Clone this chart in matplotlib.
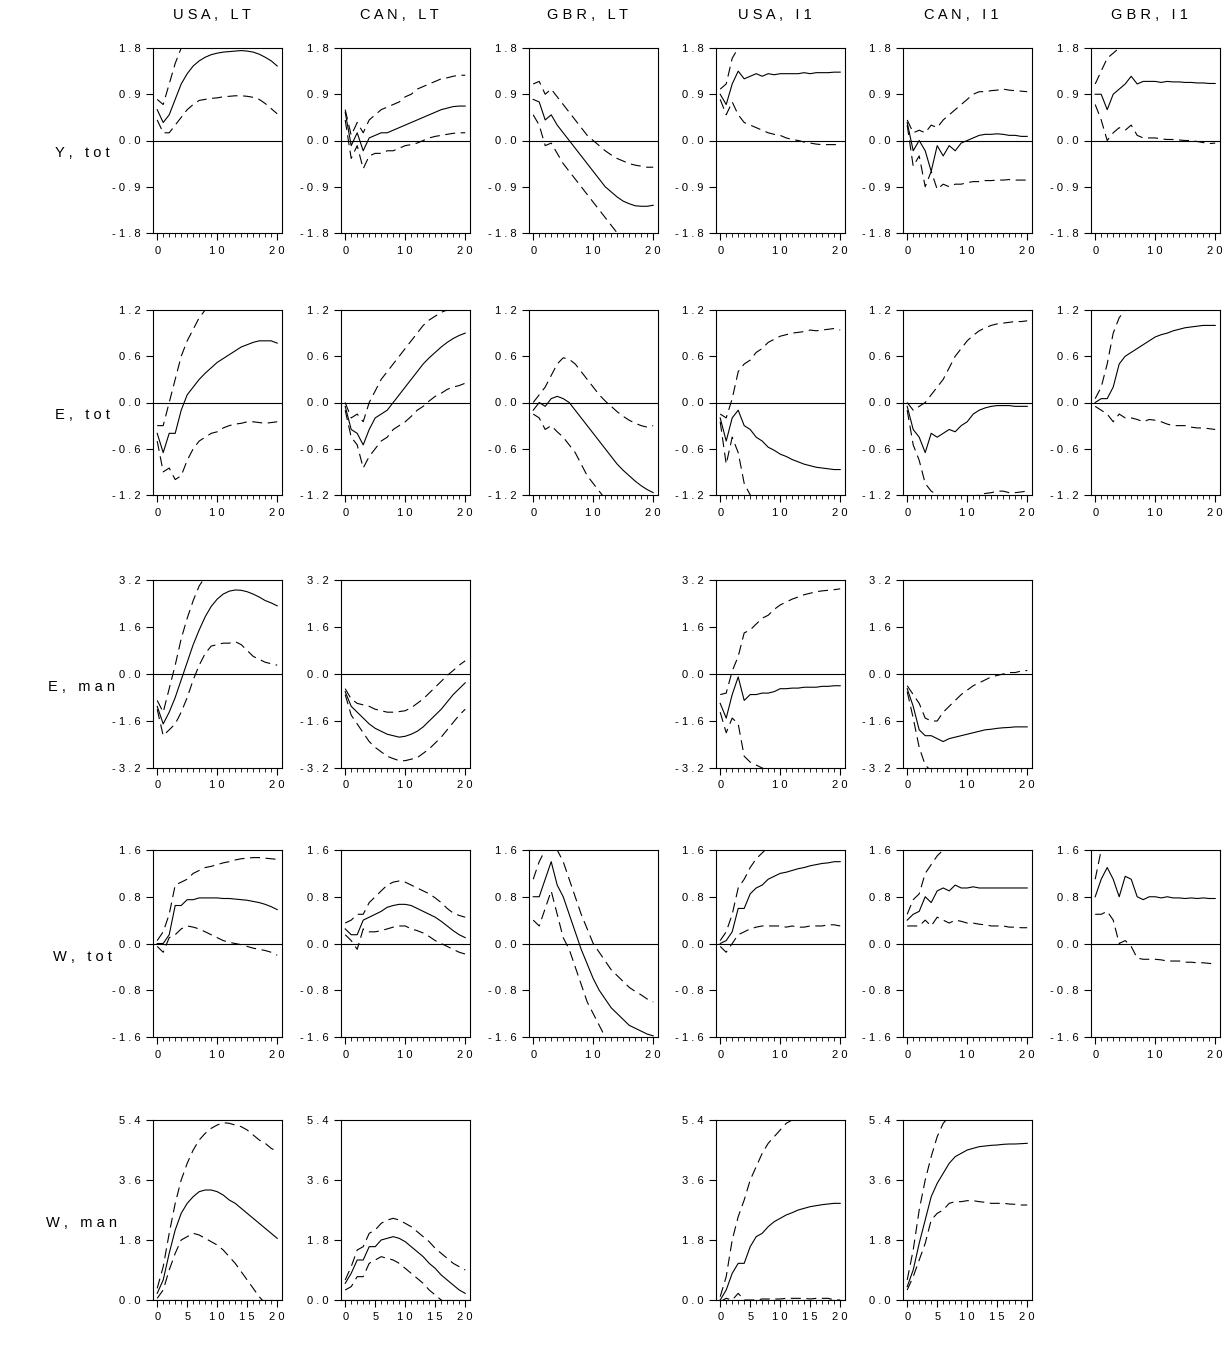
import numpy as np
import matplotlib.pyplot as plt
from matplotlib.ticker import FuncFormatter, MultipleLocator

plt.rcParams['font.family'] = ['Liberation Sans', 'DejaVu Sans']

steps = np.arange(21)
col_titles = ["USA, LT", "CAN, LT", "GBR, LT", "USA, I1", "CAN, I1", "GBR, I1"]
row_titles = ["Y, tot", "E, tot", "E, man", "W, tot", "W, man"]
row_limits = [(-1.8, 1.8), (-1.2, 1.2), (-3.2, 3.2), (-1.6, 1.6), (0.0, 5.4)]
row_ticks = [[-1.8, -0.9, 0.0, 0.9, 1.8], [-1.2, -0.6, 0.0, 0.6, 1.2],
             [-3.2, -1.6, 0.0, 1.6, 3.2], [-1.6, -0.8, 0.0, 0.8, 1.6],
             [0.0, 1.8, 3.6, 5.4]]

# each panel: [response, upper band, lower band]
y_usa_lt = [[0.6,0.35,0.5,0.8,1.1,1.3,1.45,1.55,1.62,1.67,1.7,1.72,1.73,1.74,1.75,1.74,1.72,1.68,1.62,1.55,1.45],
            [0.8,0.7,1.1,1.5,1.8,1.9,1.9,1.9,1.9,1.9,1.9,1.9,1.9,1.9,1.9,1.9,1.9,1.9,1.9,1.9,1.9],
            [0.4,0.15,0.15,0.3,0.45,0.6,0.7,0.78,0.8,0.82,0.83,0.85,0.86,0.87,0.87,0.86,0.84,0.8,0.72,0.62,0.52]]
y_can_lt = [[0.55,-0.1,0.15,-0.2,0.05,0.1,0.15,0.15,0.2,0.25,0.3,0.35,0.4,0.45,0.5,0.55,0.6,0.63,0.66,0.67,0.67],
            [0.6,0.1,0.35,0.15,0.4,0.5,0.6,0.65,0.7,0.75,0.85,0.9,1.0,1.05,1.1,1.15,1.2,1.22,1.25,1.27,1.27],
            [0.4,-0.35,-0.1,-0.55,-0.3,-0.25,-0.25,-0.2,-0.2,-0.15,-0.1,-0.08,-0.05,0,0.05,0.08,0.1,0.12,0.14,0.15,0.15]]
y_gbr_lt = [[0.8,0.75,0.4,0.5,0.3,0.15,0,-0.15,-0.3,-0.45,-0.6,-0.75,-0.9,-1.0,-1.1,-1.18,-1.23,-1.27,-1.28,-1.28,-1.26],
            [1.1,1.15,0.9,1.0,0.85,0.7,0.55,0.4,0.25,0.1,0,-0.1,-0.2,-0.28,-0.35,-0.4,-0.45,-0.48,-0.5,-0.52,-0.52],
            [0.5,0.3,-0.1,-0.05,-0.25,-0.45,-0.6,-0.75,-0.9,-1.05,-1.2,-1.35,-1.5,-1.65,-1.8,-1.9,-2.0,-2.0,-2.0,-2.0,-2.0]]
y_usa_i1 = [[0.9,0.7,1.1,1.35,1.2,1.25,1.3,1.25,1.3,1.28,1.3,1.3,1.3,1.3,1.32,1.3,1.32,1.32,1.32,1.33,1.33],
            [1.0,1.1,1.6,1.8,1.9,1.9,1.9,1.9,1.9,1.9,1.9,1.9,1.9,1.9,1.9,1.9,1.9,1.9,1.9,1.9,1.9],
            [0.8,0.5,0.75,0.5,0.35,0.3,0.25,0.2,0.15,0.12,0.1,0.05,0.02,0,-0.03,-0.05,-0.07,-0.08,-0.08,-0.08,-0.08]]
y_can_i1 = [[0.35,-0.2,0,-0.2,-0.6,-0.1,-0.3,-0.1,-0.2,-0.05,0,0.05,0.1,0.12,0.12,0.13,0.12,0.1,0.1,0.08,0.08],
            [0.4,0.15,0.2,0.15,0.3,0.25,0.4,0.5,0.6,0.7,0.8,0.9,0.95,0.95,0.97,0.98,1.0,0.98,0.97,0.96,0.95],
            [0.3,-0.5,-0.3,-0.9,-0.6,-0.95,-0.85,-0.9,-0.85,-0.85,-0.82,-0.8,-0.8,-0.78,-0.78,-0.77,-0.77,-0.76,-0.77,-0.77,-0.77]]
y_gbr_i1 = [[0.9,0.9,0.6,0.9,1.0,1.1,1.25,1.1,1.15,1.15,1.15,1.13,1.15,1.14,1.14,1.13,1.13,1.12,1.12,1.11,1.11],
            [1.1,1.35,1.6,1.7,1.8,1.9,1.9,1.9,1.9,1.9,1.9,1.9,1.9,1.9,1.9,1.9,1.9,1.9,1.9,1.9,1.9],
            [0.7,0.4,0,0.15,0.25,0.2,0.3,0.1,0.05,0.05,0.05,0.03,0.02,0.02,0.01,0,0,-0.02,-0.04,-0.06,-0.05]]

e_usa_lt = [[-0.4,-0.65,-0.4,-0.4,-0.1,0.1,0.2,0.3,0.38,0.45,0.52,0.57,0.62,0.67,0.72,0.75,0.78,0.8,0.8,0.8,0.77],
            [-0.3,-0.3,0,0.3,0.6,0.8,0.95,1.1,1.2,1.25,1.25,1.25,1.25,1.25,1.25,1.25,1.25,1.25,1.25,1.25,1.25],
            [-0.5,-0.9,-0.85,-1.0,-0.95,-0.75,-0.6,-0.5,-0.45,-0.4,-0.38,-0.33,-0.3,-0.28,-0.27,-0.25,-0.25,-0.26,-0.27,-0.26,-0.25]]
e_can_lt = [[-0.05,-0.35,-0.4,-0.55,-0.35,-0.2,-0.15,-0.1,0,0.1,0.2,0.3,0.4,0.5,0.58,0.65,0.72,0.78,0.83,0.87,0.9],
            [0,-0.2,-0.15,-0.25,0,0.15,0.3,0.4,0.5,0.6,0.7,0.8,0.9,1.0,1.07,1.12,1.17,1.2,1.22,1.25,1.25],
            [-0.1,-0.45,-0.55,-0.85,-0.7,-0.6,-0.5,-0.45,-0.35,-0.3,-0.25,-0.18,-0.1,-0.05,0.02,0.08,0.12,0.17,0.2,0.22,0.25]]
e_gbr_lt = [[-0.1,0,-0.05,0.05,0.08,0.05,0,-0.1,-0.2,-0.3,-0.4,-0.5,-0.6,-0.7,-0.8,-0.88,-0.95,-1.02,-1.08,-1.13,-1.17],
            [0,0.1,0.2,0.35,0.5,0.58,0.56,0.5,0.4,0.3,0.2,0.1,0.02,-0.05,-0.12,-0.18,-0.23,-0.27,-0.3,-0.32,-0.3],
            [-0.15,-0.2,-0.35,-0.3,-0.38,-0.45,-0.55,-0.65,-0.8,-0.95,-1.05,-1.15,-1.25,-1.25,-1.25,-1.25,-1.25,-1.25,-1.25,-1.25,-1.25]]
e_usa_i1 = [[-0.2,-0.5,-0.2,-0.1,-0.3,-0.35,-0.45,-0.5,-0.58,-0.62,-0.67,-0.7,-0.74,-0.77,-0.8,-0.82,-0.84,-0.85,-0.86,-0.87,-0.87],
            [-0.15,-0.2,0.05,0.4,0.5,0.55,0.65,0.7,0.78,0.82,0.86,0.88,0.9,0.91,0.92,0.94,0.93,0.94,0.95,0.96,0.94],
            [-0.25,-0.8,-0.45,-0.65,-1.05,-1.2,-1.25,-1.25,-1.25,-1.25,-1.25,-1.25,-1.25,-1.25,-1.25,-1.25,-1.25,-1.25,-1.25,-1.25,-1.25]]
e_can_i1 = [[-0.05,-0.35,-0.45,-0.65,-0.4,-0.45,-0.4,-0.35,-0.38,-0.3,-0.25,-0.15,-0.1,-0.07,-0.05,-0.04,-0.04,-0.04,-0.05,-0.05,-0.05],
            [0,-0.1,-0.05,0,0.1,0.2,0.3,0.45,0.6,0.7,0.8,0.87,0.93,0.97,1.0,1.02,1.03,1.04,1.05,1.05,1.06],
            [-0.1,-0.55,-0.75,-1.05,-1.15,-1.2,-1.22,-1.22,-1.22,-1.22,-1.22,-1.22,-1.2,-1.18,-1.17,-1.15,-1.15,-1.17,-1.17,-1.16,-1.15]]
e_gbr_i1 = [[0,0.05,0.05,0.2,0.5,0.6,0.65,0.7,0.75,0.8,0.85,0.88,0.9,0.93,0.95,0.97,0.98,0.99,1.0,1.0,1.0],
            [0.05,0.2,0.5,0.9,1.1,1.2,1.3,1.3,1.3,1.3,1.3,1.3,1.3,1.3,1.3,1.3,1.3,1.3,1.3,1.3,1.3],
            [-0.05,-0.1,-0.15,-0.25,-0.15,-0.2,-0.2,-0.22,-0.25,-0.22,-0.23,-0.25,-0.28,-0.3,-0.3,-0.3,-0.32,-0.33,-0.33,-0.34,-0.35]]

em_usa_lt = [[-1.1,-1.7,-1.3,-0.8,-0.2,0.4,1.0,1.5,1.95,2.3,2.55,2.72,2.82,2.86,2.85,2.8,2.72,2.62,2.5,2.42,2.32],
             [-0.9,-1.3,-0.5,0.3,1.2,1.9,2.5,3.0,3.3,3.3,3.3,3.3,3.3,3.3,3.3,3.3,3.3,3.3,3.3,3.3,3.3],
             [-1.2,-2.1,-1.9,-1.7,-1.3,-0.8,-0.2,0.3,0.7,0.95,1.0,1.05,1.05,1.1,1.0,0.8,0.6,0.5,0.4,0.35,0.3]]
em_can_lt = [[-0.6,-1.1,-1.3,-1.5,-1.7,-1.85,-1.95,-2.05,-2.1,-2.15,-2.12,-2.05,-1.95,-1.8,-1.6,-1.4,-1.2,-0.95,-0.7,-0.5,-0.3],
             [-0.5,-0.85,-1.0,-1.05,-1.1,-1.2,-1.25,-1.3,-1.3,-1.28,-1.25,-1.15,-1.0,-0.85,-0.65,-0.45,-0.25,-0.05,0.12,0.3,0.45],
             [-0.7,-1.4,-1.7,-2.0,-2.3,-2.5,-2.65,-2.8,-2.88,-2.95,-2.95,-2.9,-2.85,-2.7,-2.55,-2.35,-2.15,-1.9,-1.65,-1.4,-1.2]]
em_usa_i1 = [[-1.0,-1.5,-0.7,-0.1,-0.9,-0.7,-0.7,-0.65,-0.65,-0.6,-0.5,-0.5,-0.48,-0.48,-0.45,-0.45,-0.45,-0.42,-0.42,-0.4,-0.4],
             [-0.7,-0.65,0.1,0.6,1.4,1.5,1.7,1.9,2.0,2.2,2.35,2.45,2.55,2.62,2.7,2.75,2.8,2.83,2.85,2.87,2.9],
             [-1.3,-2.0,-1.5,-1.7,-2.8,-3.0,-3.1,-3.2,-3.3,-3.3,-3.3,-3.3,-3.3,-3.3,-3.3,-3.3,-3.3,-3.3,-3.3,-3.3,-3.3]]
em_can_i1 = [[-0.5,-1.1,-1.9,-2.1,-2.1,-2.2,-2.3,-2.2,-2.15,-2.1,-2.05,-2.0,-1.95,-1.9,-1.88,-1.85,-1.83,-1.82,-1.8,-1.8,-1.8],
             [-0.4,-0.7,-1.0,-1.5,-1.6,-1.6,-1.3,-1.1,-0.9,-0.7,-0.55,-0.4,-0.3,-0.2,-0.1,-0.05,0,0.05,0.05,0.1,0.12],
             [-0.6,-1.5,-2.5,-3.1,-3.3,-3.3,-3.3,-3.3,-3.3,-3.3,-3.3,-3.3,-3.3,-3.3,-3.3,-3.3,-3.3,-3.3,-3.3,-3.3,-3.3]]

w_usa_lt = [[0,0,0.15,0.65,0.65,0.75,0.75,0.78,0.78,0.78,0.78,0.77,0.77,0.76,0.75,0.74,0.72,0.7,0.67,0.63,0.58],
            [0.05,0.2,0.5,1.0,1.05,1.1,1.2,1.25,1.3,1.32,1.35,1.38,1.4,1.43,1.45,1.46,1.47,1.47,1.46,1.45,1.44],
            [-0.05,-0.15,0.1,0.15,0.25,0.3,0.28,0.25,0.2,0.15,0.1,0.05,0.02,0,-0.02,-0.05,-0.08,-0.1,-0.12,-0.15,-0.2]]
w_can_lt = [[0.25,0.15,0.15,0.4,0.45,0.5,0.55,0.62,0.65,0.67,0.67,0.65,0.6,0.55,0.5,0.45,0.38,0.3,0.22,0.15,0.1],
            [0.35,0.4,0.5,0.5,0.7,0.8,0.9,1.0,1.05,1.07,1.05,1.0,0.95,0.9,0.85,0.78,0.7,0.6,0.52,0.48,0.45],
            [0.15,0.05,-0.1,0.25,0.2,0.2,0.22,0.25,0.28,0.3,0.3,0.25,0.22,0.18,0.12,0.05,0,-0.05,-0.1,-0.15,-0.18]]
w_gbr_lt = [[0.8,0.8,1.1,1.4,1.0,0.8,0.5,0.2,-0.1,-0.35,-0.6,-0.8,-0.95,-1.1,-1.2,-1.3,-1.4,-1.45,-1.5,-1.55,-1.58],
            [1.1,1.4,1.6,1.7,1.6,1.4,1.1,0.8,0.5,0.25,0,-0.15,-0.3,-0.45,-0.55,-0.65,-0.75,-0.82,-0.88,-0.95,-1.0],
            [0.4,0.3,0.6,0.9,0.5,0.1,-0.1,-0.4,-0.7,-1.0,-1.2,-1.4,-1.6,-1.7,-1.7,-1.7,-1.7,-1.7,-1.7,-1.7,-1.7]]
w_usa_i1 = [[0,0.05,0.2,0.6,0.6,0.85,0.95,1.0,1.1,1.15,1.2,1.22,1.25,1.28,1.3,1.33,1.35,1.37,1.38,1.4,1.4],
            [0.05,0.2,0.5,0.95,1.1,1.3,1.45,1.55,1.65,1.7,1.7,1.7,1.7,1.7,1.7,1.7,1.7,1.7,1.7,1.7,1.7],
            [-0.05,-0.15,0,0.15,0.2,0.25,0.28,0.3,0.3,0.3,0.3,0.28,0.3,0.28,0.28,0.3,0.3,0.3,0.32,0.32,0.3]]
w_can_i1 = [[0.4,0.5,0.55,0.8,0.7,0.9,0.95,0.9,1.0,0.95,0.95,0.97,0.95,0.95,0.95,0.95,0.95,0.95,0.95,0.95,0.95],
            [0.5,0.75,0.85,1.2,1.35,1.5,1.6,1.65,1.7,1.7,1.7,1.7,1.7,1.7,1.7,1.7,1.7,1.7,1.7,1.7,1.7],
            [0.3,0.3,0.3,0.4,0.3,0.45,0.4,0.35,0.4,0.38,0.35,0.35,0.33,0.32,0.3,0.3,0.3,0.28,0.28,0.27,0.27]]
w_gbr_i1 = [[0.8,1.1,1.3,1.1,0.8,1.15,1.1,0.8,0.75,0.8,0.8,0.78,0.8,0.78,0.78,0.77,0.78,0.77,0.78,0.77,0.77],
            [1.1,1.6,1.7,1.7,1.7,1.7,1.7,1.7,1.7,1.7,1.7,1.7,1.7,1.7,1.7,1.7,1.7,1.7,1.7,1.7,1.7],
            [0.5,0.5,0.55,0.4,0,0.05,-0.05,-0.25,-0.27,-0.27,-0.27,-0.28,-0.3,-0.3,-0.3,-0.32,-0.32,-0.33,-0.33,-0.34,-0.35]]

wm_usa_lt = [[0.2,0.6,1.4,2.1,2.6,2.9,3.1,3.25,3.3,3.3,3.25,3.15,3.0,2.9,2.75,2.6,2.45,2.3,2.15,2.0,1.85],
             [0.35,1.0,2.0,2.9,3.6,4.1,4.5,4.8,5.0,5.15,5.25,5.32,5.3,5.25,5.2,5.1,4.95,4.8,4.7,4.55,4.45],
             [0.05,0.3,0.9,1.4,1.8,1.9,2.0,1.95,1.85,1.75,1.65,1.5,1.3,1.1,0.85,0.6,0.35,0.1,-0.1,-0.2,-0.3]]
wm_can_lt = [[0.5,0.8,1.2,1.2,1.6,1.6,1.8,1.85,1.9,1.85,1.75,1.6,1.45,1.3,1.1,0.95,0.75,0.6,0.45,0.3,0.2],
             [0.6,1.0,1.5,1.6,2.0,2.1,2.3,2.4,2.45,2.4,2.3,2.2,2.05,1.9,1.75,1.55,1.4,1.25,1.1,1.0,0.9],
             [0.3,0.4,0.7,0.7,1.1,1.2,1.3,1.25,1.2,1.1,0.95,0.8,0.65,0.5,0.3,0.15,0,-0.1,-0.2,-0.3,-0.4]]
wm_usa_i1 = [[0,0.3,0.8,1.1,1.1,1.6,1.9,2.0,2.2,2.35,2.45,2.55,2.62,2.7,2.75,2.8,2.83,2.86,2.88,2.9,2.9],
             [0.1,0.7,1.8,2.5,3.0,3.6,4.0,4.4,4.7,4.9,5.1,5.3,5.4,5.5,5.5,5.5,5.5,5.5,5.5,5.5,5.5],
             [-0.05,0.05,0,0.2,0,0,0,0.03,0.03,0.03,0.03,0.05,0.05,0.05,0.05,0.03,0.05,0.05,0.05,0,0]]
wm_can_i1 = [[0.4,0.9,1.7,2.4,3.1,3.5,3.8,4.1,4.3,4.4,4.5,4.55,4.6,4.62,4.64,4.65,4.67,4.68,4.68,4.69,4.7],
             [0.6,1.5,2.7,3.6,4.3,4.9,5.3,5.5,5.5,5.5,5.5,5.5,5.5,5.5,5.5,5.5,5.5,5.5,5.5,5.5,5.5],
             [0.3,0.7,1.2,1.7,2.4,2.6,2.7,2.9,2.95,2.95,2.98,2.98,2.95,2.93,2.9,2.9,2.9,2.88,2.87,2.85,2.85]]

grid = [[y_usa_lt, y_can_lt, y_gbr_lt, y_usa_i1, y_can_i1, y_gbr_i1],
        [e_usa_lt, e_can_lt, e_gbr_lt, e_usa_i1, e_can_i1, e_gbr_i1],
        [em_usa_lt, em_can_lt, None, em_usa_i1, em_can_i1, None],
        [w_usa_lt, w_can_lt, w_gbr_lt, w_usa_i1, w_can_i1, w_gbr_i1],
        [wm_usa_lt, wm_can_lt, None, wm_usa_i1, wm_can_i1, None]]


def spaced(s):
    return ' '.join(s.replace(' ', ''))


def spaced_title(s):
    # keep a visible gap after the comma, as in the source
    return ' '.join(s.replace(', ', ',\u00a0'))


W, H = 1223, 1372
fig = plt.figure(figsize=(W / 100, H / 100), dpi=100)
col_left = [153, 341, 529, 716, 903, 1091]
row_top = [48, 310, 580, 850, 1120]
row_bot = [233, 495, 768, 1037, 1300]
pw = 129
fs = 8

for c, t in enumerate(col_titles):
    fig.text((col_left[c] + pw / 2 - 6) / W, 1 - 15 / H, spaced_title(t), ha='center', va='center', fontsize=10.5)

for r in range(5):
    ph = row_bot[r] - row_top[r]
    fig.text(82 / W, 1 - (row_top[r] + ph * 0.57) / H, spaced_title(row_titles[r]),
             ha='center', va='center', fontsize=10.5)
    for c in range(6):
        panel = grid[r][c]
        if panel is None:
            continue
        ax = fig.add_axes([col_left[c] / W, 1 - row_bot[r] / H, pw / W, ph / H])
        ax.plot(steps, panel[0], color='black', lw=0.8)
        ax.plot(steps, panel[1], color='black', lw=0.8, dashes=(9, 5))
        ax.plot(steps, panel[2], color='black', lw=0.8, dashes=(9, 5))
        ax.axhline(0, color='black', lw=0.8)
        ax.set_xlim(-0.7, 20.8)
        ax.set_ylim(*row_limits[r])
        ax.set_yticks(row_ticks[r])
        ax.yaxis.set_major_formatter(FuncFormatter(lambda v, p: spaced('%.1f' % v)))
        if r == 4:
            ax.set_xticks([0, 5, 10, 15, 20])
        else:
            ax.set_xticks([0, 10, 20])
        ax.xaxis.set_minor_locator(MultipleLocator(1))
        ax.xaxis.set_major_formatter(FuncFormatter(lambda v, p: spaced('%d' % v)))
        ax.tick_params(axis='both', which='major', direction='out', length=5, width=0.8,
                       labelsize=fs, pad=4)
        ax.tick_params(axis='x', which='minor', direction='out', length=3, width=0.6)
        for s in ax.spines.values():
            s.set_linewidth(0.8)

fig.savefig('out.png', dpi=100)
